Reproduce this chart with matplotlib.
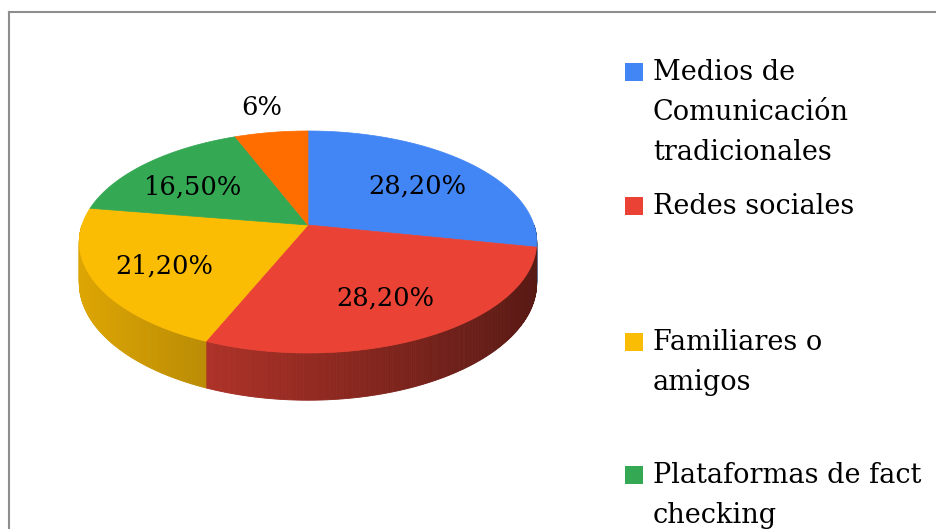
import numpy as np
import matplotlib.pyplot as plt
from matplotlib.patches import Polygon, Rectangle
from matplotlib.colors import to_rgb

# Datos
categorias = ["Medios de\nComunicación\ntradicionales", "Redes sociales",
              "Familiares o\namigos", "Plataformas de fact\nchecking"]
valores = [28.2, 28.2, 21.2, 16.5, 6]
etiquetas = ["28,20%", "28,20%", "21,20%", "16,50%", "6%"]
colores = ["#4285f4", "#ea4335", "#fbbc04", "#34a853", "#ff6d01"]

plt.rcParams['font.family'] = ['DejaVu Serif']

fig = plt.figure(figsize=(9.36, 5.29), dpi=100)
ax = fig.add_axes([0, 0, 1, 1])
ax.set_xlim(0, 936)
ax.set_ylim(529, 0)
ax.axis('off')

# geometría del pastel 3D (perspectiva simple)
cx, cy = 308, 225
a, k, p = 226, 108.4, 0.153
d = 40


def proj(X, Y):
    s = 1 + p * Y
    return cx + a * X / s, cy - k * Y / s


def sombra(x):
    return 0.88 - 0.5 * (x - 80) / 458


frac = np.array(valores) / sum(valores)
bordes = 90 - np.concatenate([[0], np.cumsum(frac)]) * 360

# caras laterales con degradado
for i, col in enumerate(colores):
    t0, t1 = bordes[i], bordes[i + 1]
    lo, hi = max(t1, -180), min(t0, 0)
    if lo >= hi:
        continue
    base = np.array(to_rgb(col))
    ts = np.arange(hi, lo - 0.01, -0.5)
    if ts[-1] > lo:
        ts = np.append(ts, lo)
    for ta, tb in zip(ts[:-1], ts[1:]):
        ra, rb = np.radians(ta), np.radians(tb)
        xa, ya = proj(np.cos(ra), np.sin(ra))
        xb, yb = proj(np.cos(rb), np.sin(rb))
        da = d / (1 + p * np.sin(ra))
        db = d / (1 + p * np.sin(rb))
        c = np.clip(base * sombra((xa + xb) / 2), 0, 1)
        ax.add_patch(Polygon([(xa, ya), (xb, yb), (xb, yb + db), (xa, ya + da)],
                             closed=True, facecolor=c, edgecolor=c, lw=0.6, zorder=1))

# caras superiores
for i, col in enumerate(colores):
    t0, t1 = bordes[i], bordes[i + 1]
    ts = np.radians(np.linspace(t0, t1, 200))
    xs, ys = proj(np.cos(ts), np.sin(ts))
    pts = [(cx, cy)] + list(zip(xs, ys))
    ax.add_patch(Polygon(pts, closed=True, facecolor=col, edgecolor=col,
                         lw=0.5, zorder=2))

# etiquetas de porcentaje
for i, txt in enumerate(etiquetas):
    m = np.radians((bordes[i] + bordes[i + 1]) / 2)
    if valores[i] < 10:
        x, y = proj(1.32 * np.cos(m), 1.32 * np.sin(m))
    else:
        x, y = proj(0.68 * np.cos(m), 0.66 * np.sin(m))
        x, y = x - 2, y + 4
    ax.text(x, y, txt, fontsize=18.5, ha='center', va='center', color='black', zorder=3)

# leyenda
base_y = [80, 214, 350, 483]
for cat, col, y0 in zip(categorias, colores, base_y):
    ax.add_patch(Rectangle((625, y0 - 17), 18, 18, facecolor=col, edgecolor='none', zorder=3))
    for j, linea in enumerate(cat.split("\n")):
        ax.text(653, y0 + 40 * j, linea, fontsize=19.5, ha='left', va='baseline',
                color='black', zorder=3)

# marco
ax.plot([9, 9], [529, 12], color='#8e8e8e', lw=1.5, solid_capstyle='projecting')
ax.plot([9, 936], [12, 12], color='#8e8e8e', lw=1.5, solid_capstyle='projecting')

fig.savefig('out.png', dpi=100)
